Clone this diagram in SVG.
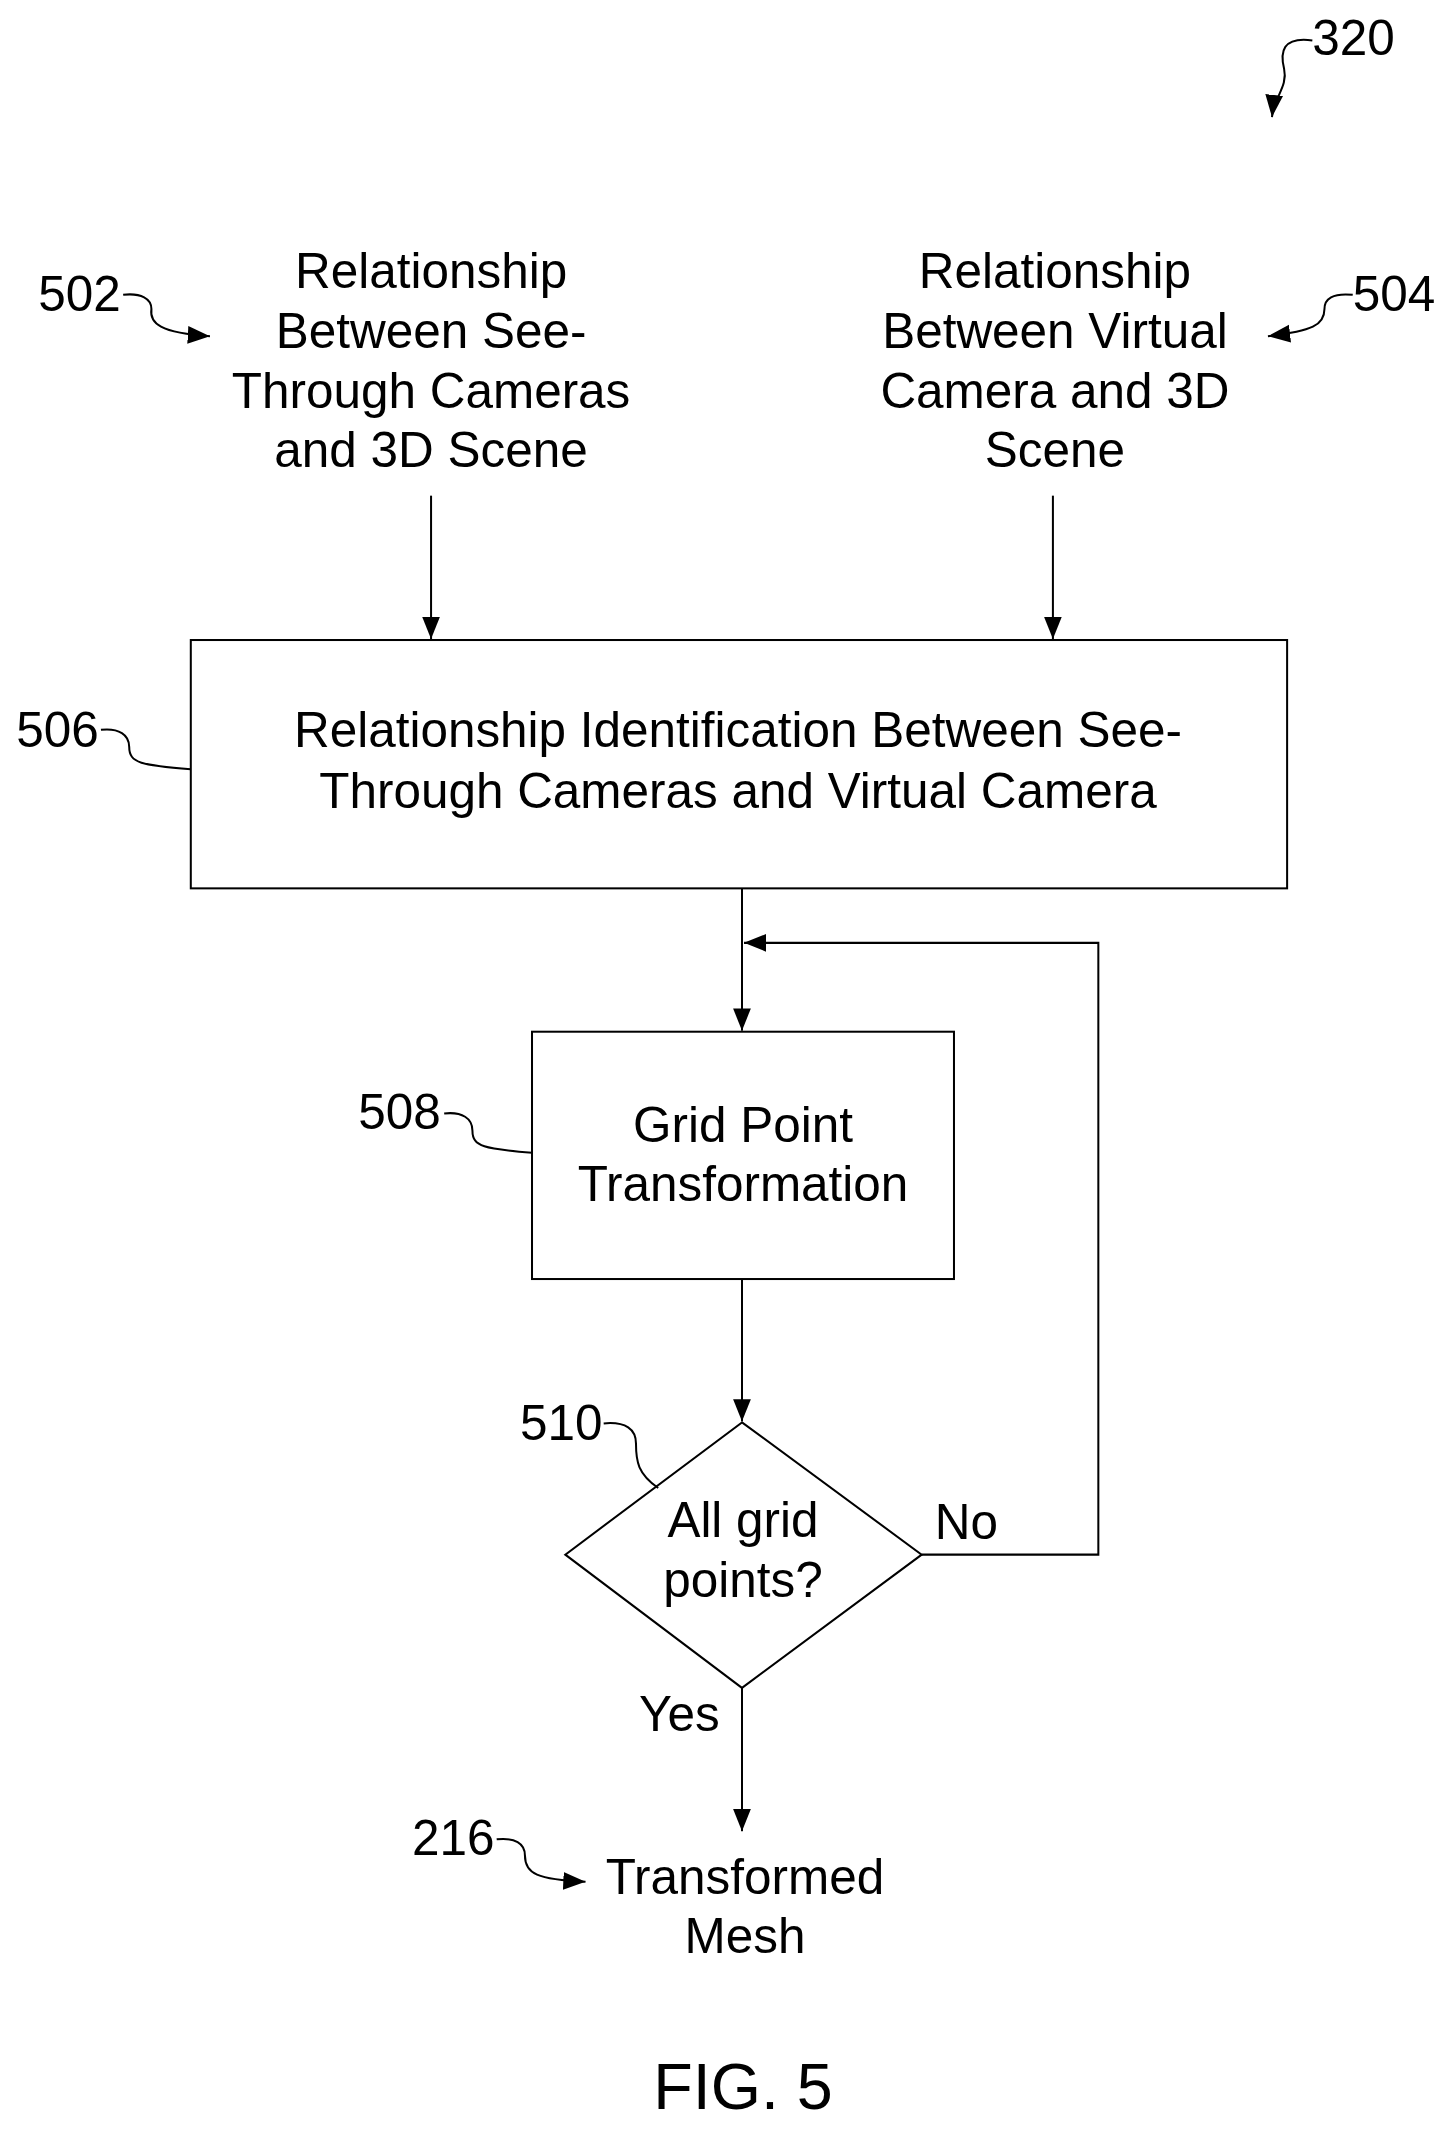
<svg xmlns="http://www.w3.org/2000/svg" width="1454" height="2130" viewBox="0 0 1454 2130">
<defs>
<marker id="ah2" viewBox="0 0 10 10" refX="10" refY="5" markerWidth="22" markerHeight="22" markerUnits="userSpaceOnUse" orient="auto"><path d="M0,1 L10,5 L0,9 z" fill="#000"/></marker>
</defs>
<style>
text{font-family:"Liberation Sans",Arial,sans-serif;font-size:49px;fill:#000}
.c{text-anchor:middle}
.b{fill:#fff;stroke:#000;stroke-width:2}
.l{fill:none;stroke:#000;stroke-width:2}
</style>
<rect width="1454" height="2130" fill="#fff"/>
<g transform="scale(1.0095)">
<g id="ref320"><text x="1300" y="54">320</text><path class="l" d="M1300,40 C1270,36 1268,52 1272,68 C1276,86 1262,96 1260,116" marker-end="url(#ah2)"/></g>
<g id="n502"><text x="38" y="308">502</text><path class="l" d="M122,292 C140,290 150,296 150,306 C148,320 158,330 208,333" marker-end="url(#ah2)"/>
<text class="c" x="427" y="285">Relationship</text><text class="c" x="427" y="345">Between See-</text><text class="c" x="427" y="404">Through Cameras</text><text class="c" x="427" y="463">and 3D Scene</text></g>
<g id="n504"><text x="1340" y="308">504</text><path class="l" d="M1340,292 C1320,290 1312,296 1312,306 C1312,322 1300,328 1256,333" marker-end="url(#ah2)"/>
<text class="c" x="1045" y="285">Relationship</text><text class="c" x="1045" y="345">Between Virtual</text><text class="c" x="1045" y="404">Camera and 3D</text><text class="c" x="1045" y="463">Scene</text></g>
<g id="n506"><rect class="b" x="189" y="634" width="1086" height="246"/><text x="16" y="740">506</text><path class="l" d="M100,723 C118,721 128,728 128,740 C128,756 140,758 189,762"/>
<text class="c" x="731" y="740">Relationship Identification Between See-</text><text class="c" x="731" y="800">Through Cameras and Virtual Camera</text></g>
<g id="n508"><rect class="b" x="527" y="1022" width="418" height="245"/><text x="355" y="1118">508</text><path class="l" d="M440,1103 C458,1101 468,1108 468,1120 C468,1136 480,1138 527,1142"/>
<text class="c" x="736" y="1131">Grid Point</text><text class="c" x="736" y="1190">Transformation</text></g>
<g id="n510"><path class="b" d="M735,1409 L913,1540 L735,1672 L560,1540 z"/><text x="515" y="1426">510</text><path class="l" d="M598,1410 C620,1408 630,1416 630,1430 C630,1448 632,1460 652,1474"/>
<text class="c" x="736" y="1523">All grid</text><text class="c" x="736" y="1582">points?</text></g>
<g id="n216"><text x="408" y="1838">216</text><path class="l" d="M492,1822 C510,1820 520,1826 520,1838 C520,1856 532,1862 580,1864" marker-end="url(#ah2)"/>
<text class="c" x="738" y="1876">Transformed</text><text class="c" x="738" y="1935">Mesh</text></g>
<g id="connectors">
<line class="l" x1="427" y1="491" x2="427" y2="633" marker-end="url(#ah2)"/>
<line class="l" x1="1043" y1="491" x2="1043" y2="633" marker-end="url(#ah2)"/>
<line class="l" x1="735" y1="880" x2="735" y2="1021" marker-end="url(#ah2)"/>
<polyline class="l" points="913,1540 1088,1540 1088,934 737,934" marker-end="url(#ah2)"/>
<line class="l" x1="735" y1="1267" x2="735" y2="1408" marker-end="url(#ah2)"/>
<line class="l" x1="735" y1="1672" x2="735" y2="1814" marker-end="url(#ah2)"/>
<text x="926" y="1525">No</text><text x="633" y="1715">Yes</text>
</g>
<text class="c" x="736" y="2089" style="font-size:64px">FIG. 5</text>
</g>
</svg>
